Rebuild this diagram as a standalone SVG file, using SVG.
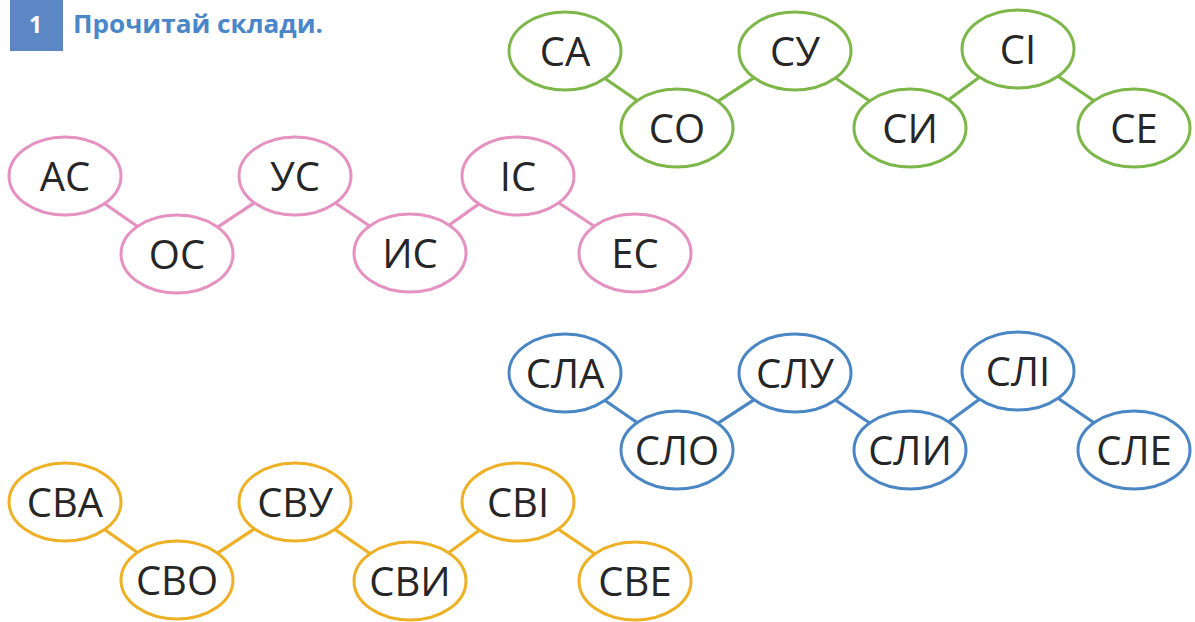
<svg xmlns="http://www.w3.org/2000/svg" width="1195" height="622" viewBox="0 0 1195 622">
<style>
  .n ellipse { fill: #fff; stroke-width: 3; }
  .n text { font-family: "Open Sans", "Noto Sans", sans-serif; font-size: 40px; fill: #262626; text-anchor: middle; }
  .c line { stroke-width: 3.2; }
  .green ellipse, line.green { stroke: #7db749; }
  .pink ellipse, line.pink { stroke: #e591c1; }
  .blue ellipse, line.blue { stroke: #4a86c4; }
  .orange ellipse, line.orange { stroke: #eeb024; }
</style>
<rect width="1195" height="622" fill="#fff"/>
<g id="header">
  <rect x="10" y="0" width="53" height="51" fill="#5b87c5"/>
  <text x="35.5" y="33" font-family="Open Sans, sans-serif" font-weight="bold" font-size="23" fill="#fff" text-anchor="middle">1</text>
  <text x="73" y="33" font-family="Open Sans, sans-serif" font-weight="bold" font-size="25.5" fill="#4a86c8" textLength="250" lengthAdjust="spacingAndGlyphs">Прочитай склади.</text>
</g>
<g id="connectors" class="c">
  <line class="green" x1="565" y1="51" x2="677" y2="128"/>
  <line class="green" x1="677" y1="128" x2="795" y2="51"/>
  <line class="green" x1="795" y1="51" x2="910" y2="128"/>
  <line class="green" x1="910" y1="128" x2="1018" y2="49"/>
  <line class="green" x1="1018" y1="49" x2="1134" y2="128"/>
  <line class="pink" x1="65" y1="176" x2="177" y2="254"/>
  <line class="pink" x1="177" y1="254" x2="295" y2="176"/>
  <line class="pink" x1="295" y1="176" x2="410" y2="253"/>
  <line class="pink" x1="410" y1="253" x2="518" y2="176"/>
  <line class="pink" x1="518" y1="176" x2="635" y2="253"/>
  <line class="blue" x1="565" y1="373" x2="677" y2="450"/>
  <line class="blue" x1="677" y1="450" x2="795" y2="373"/>
  <line class="blue" x1="795" y1="373" x2="910" y2="450"/>
  <line class="blue" x1="910" y1="450" x2="1018" y2="371"/>
  <line class="blue" x1="1018" y1="371" x2="1134" y2="450"/>
  <line class="orange" x1="65" y1="502" x2="177" y2="580"/>
  <line class="orange" x1="177" y1="580" x2="295" y2="502"/>
  <line class="orange" x1="295" y1="502" x2="410" y2="581"/>
  <line class="orange" x1="410" y1="581" x2="518" y2="502"/>
  <line class="orange" x1="518" y1="502" x2="635" y2="581"/>
</g>
<g id="green" class="n green">
  <g id="n-sa"><ellipse cx="565" cy="51" rx="56" ry="39"/><text x="565" y="65.5">СА</text></g>
  <g id="n-so"><ellipse cx="677" cy="128" rx="56" ry="39"/><text x="677" y="142.5">СО</text></g>
  <g id="n-su"><ellipse cx="795" cy="51" rx="56" ry="39"/><text x="795" y="65.5">СУ</text></g>
  <g id="n-sy"><ellipse cx="910" cy="128" rx="56" ry="39"/><text x="910" y="142.5">СИ</text></g>
  <g id="n-si"><ellipse cx="1018" cy="49" rx="56" ry="39"/><text x="1018" y="63.5">СІ</text></g>
  <g id="n-se"><ellipse cx="1134" cy="128" rx="56" ry="39"/><text x="1134" y="142.5">СЕ</text></g>
</g>
<g id="pink" class="n pink">
  <g id="n-as"><ellipse cx="65" cy="176" rx="56" ry="39"/><text x="65" y="190.5">АС</text></g>
  <g id="n-os"><ellipse cx="177" cy="254" rx="56" ry="39"/><text x="177" y="268.5">ОС</text></g>
  <g id="n-us"><ellipse cx="295" cy="176" rx="56" ry="39"/><text x="295" y="190.5">УС</text></g>
  <g id="n-ys"><ellipse cx="410" cy="253" rx="56" ry="39"/><text x="410" y="267.5">ИС</text></g>
  <g id="n-is"><ellipse cx="518" cy="176" rx="56" ry="39"/><text x="518" y="190.5">ІС</text></g>
  <g id="n-es"><ellipse cx="635" cy="253" rx="56" ry="39"/><text x="635" y="267.5">ЕС</text></g>
</g>
<g id="blue" class="n blue">
  <g id="n-sla"><ellipse cx="565" cy="373" rx="56" ry="39"/><text x="565" y="387.5">СЛА</text></g>
  <g id="n-slo"><ellipse cx="677" cy="450" rx="56" ry="39"/><text x="677" y="464.5">СЛО</text></g>
  <g id="n-slu"><ellipse cx="795" cy="373" rx="56" ry="39"/><text x="795" y="387.5">СЛУ</text></g>
  <g id="n-sly"><ellipse cx="910" cy="450" rx="56" ry="39"/><text x="910" y="464.5">СЛИ</text></g>
  <g id="n-sli"><ellipse cx="1018" cy="371" rx="56" ry="39"/><text x="1018" y="385.5">СЛІ</text></g>
  <g id="n-sle"><ellipse cx="1134" cy="450" rx="56" ry="39"/><text x="1134" y="464.5">СЛЕ</text></g>
</g>
<g id="orange" class="n orange">
  <g id="n-sva"><ellipse cx="65" cy="502" rx="56" ry="39"/><text x="65" y="516.5">СВА</text></g>
  <g id="n-svo"><ellipse cx="177" cy="580" rx="56" ry="39"/><text x="177" y="594.5">СВО</text></g>
  <g id="n-svu"><ellipse cx="295" cy="502" rx="56" ry="39"/><text x="295" y="516.5">СВУ</text></g>
  <g id="n-svy"><ellipse cx="410" cy="581" rx="56" ry="39"/><text x="410" y="595.5">СВИ</text></g>
  <g id="n-svi"><ellipse cx="518" cy="502" rx="56" ry="39"/><text x="518" y="516.5">СВІ</text></g>
  <g id="n-sve"><ellipse cx="635" cy="581" rx="56" ry="39"/><text x="635" y="595.5">СВЕ</text></g>
</g>
</svg>
